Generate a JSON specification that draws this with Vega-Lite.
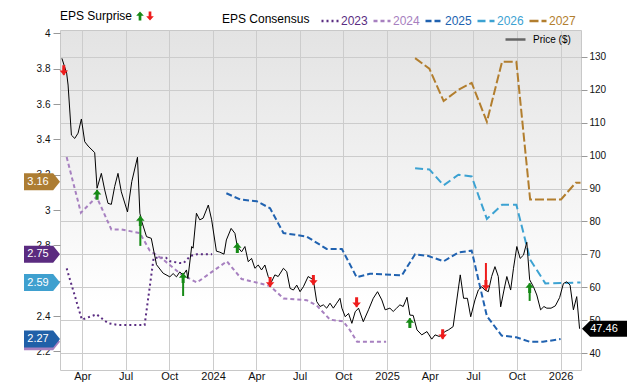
{
  "$schema": "https://vega.github.io/schema/vega-lite/v6.json",
  "width": 521,
  "height": 340,
  "autosize": {"type": "none"},
  "padding": {"left": 60, "top": 30, "right": 59, "bottom": 12},
  "config": {
    "font": "Liberation Sans",
    "view": {
      "fill": {"gradient": "linear", "x1": 0, "y1": 0, "x2": 0, "y2": 1, "stops": [{"offset": 0, "color": "#e3e3e3"}, {"offset": 0.8, "color": "#ffffff"}, {"offset": 1, "color": "#ffffff"}]},
      "stroke": "#c8c8c8",
      "strokeWidth": 1
    },
    "axis": {"domain": false, "gridColor": "#cccccc", "gridWidth": 1, "tickColor": "#999999", "labelColor": "#111111", "labelFont": "Liberation Sans", "labelOverlap": false},
    "legend": {"titleFont": "Liberation Sans", "titleFontSize": 12, "titleFontWeight": "normal", "titleColor": "#000000", "labelFont": "Liberation Sans"}
  },
  "datasets": {
    "price": [
      {"date": "2023-02-17", "price": 129.5}, {"date": "2023-02-27", "price": 125}, {"date": "2023-03-02", "price": 121.4},
      {"date": "2023-03-09", "price": 106.2}, {"date": "2023-03-16", "price": 105.2}, {"date": "2023-03-23", "price": 106.8},
      {"date": "2023-03-30", "price": 111.1}, {"date": "2023-04-06", "price": 104.2}, {"date": "2023-04-13", "price": 102.9},
      {"date": "2023-04-27", "price": 100.9}, {"date": "2023-05-02", "price": 90.1}, {"date": "2023-05-11", "price": 94.6},
      {"date": "2023-05-18", "price": 89.6}, {"date": "2023-05-25", "price": 85.5}, {"date": "2023-06-01", "price": 85.2},
      {"date": "2023-06-08", "price": 90.6}, {"date": "2023-06-15", "price": 94.6}, {"date": "2023-06-22", "price": 89.0},
      {"date": "2023-07-05", "price": 82.9}, {"date": "2023-07-14", "price": 92.1}, {"date": "2023-07-26", "price": 99.5},
      {"date": "2023-07-31", "price": 82.5}, {"date": "2023-08-04", "price": 80}, {"date": "2023-08-14", "price": 75.4},
      {"date": "2023-08-24", "price": 74.9}, {"date": "2023-09-04", "price": 66.9}, {"date": "2023-09-18", "price": 64.3},
      {"date": "2023-10-02", "price": 63.2}, {"date": "2023-10-09", "price": 64.2}, {"date": "2023-10-16", "price": 63.2},
      {"date": "2023-10-23", "price": 64.7}, {"date": "2023-10-30", "price": 63.7}, {"date": "2023-11-06", "price": 65.3},
      {"date": "2023-11-09", "price": 62.7}, {"date": "2023-11-17", "price": 72.4}, {"date": "2023-11-20", "price": 71.9},
      {"date": "2023-11-27", "price": 82.5}, {"date": "2023-12-04", "price": 80.5}, {"date": "2023-12-11", "price": 81},
      {"date": "2023-12-22", "price": 85}, {"date": "2023-12-29", "price": 80.5}, {"date": "2024-01-08", "price": 71},
      {"date": "2024-01-15", "price": 70.7}, {"date": "2024-01-24", "price": 70.1}, {"date": "2024-01-29", "price": 74.4},
      {"date": "2024-02-08", "price": 77.9}, {"date": "2024-02-16", "price": 76.4}, {"date": "2024-02-21", "price": 72.4},
      {"date": "2024-03-01", "price": 70.8}, {"date": "2024-03-08", "price": 72.4}, {"date": "2024-03-15", "price": 67.8},
      {"date": "2024-03-22", "price": 68.8}, {"date": "2024-03-29", "price": 65.8}, {"date": "2024-04-05", "price": 66.8},
      {"date": "2024-04-12", "price": 65.3}, {"date": "2024-04-19", "price": 66.8}, {"date": "2024-04-26", "price": 63.3},
      {"date": "2024-05-03", "price": 61.7}, {"date": "2024-05-10", "price": 63.8}, {"date": "2024-05-17", "price": 63.3},
      {"date": "2024-05-28", "price": 65.8}, {"date": "2024-06-04", "price": 64.8}, {"date": "2024-06-11", "price": 59.7},
      {"date": "2024-06-18", "price": 59.2}, {"date": "2024-06-25", "price": 60.7}, {"date": "2024-07-02", "price": 58.7},
      {"date": "2024-07-09", "price": 60.2}, {"date": "2024-07-19", "price": 63.3}, {"date": "2024-07-30", "price": 62.3},
      {"date": "2024-08-06", "price": 55.7}, {"date": "2024-08-13", "price": 54.2}, {"date": "2024-08-20", "price": 54.7},
      {"date": "2024-08-27", "price": 53.7}, {"date": "2024-09-03", "price": 55.2}, {"date": "2024-09-10", "price": 53.7},
      {"date": "2024-09-17", "price": 55.2}, {"date": "2024-09-24", "price": 56.7}, {"date": "2024-09-28", "price": 53.7},
      {"date": "2024-10-05", "price": 51.1}, {"date": "2024-10-12", "price": 52.1}, {"date": "2024-10-19", "price": 49.1},
      {"date": "2024-10-26", "price": 52.6}, {"date": "2024-11-02", "price": 53.7}, {"date": "2024-11-12", "price": 49.6},
      {"date": "2024-11-23", "price": 53.2}, {"date": "2024-12-03", "price": 56.7}, {"date": "2024-12-12", "price": 58.7},
      {"date": "2024-12-21", "price": 56.2}, {"date": "2024-12-28", "price": 53.2}, {"date": "2025-01-07", "price": 53.7},
      {"date": "2025-01-14", "price": 52.7}, {"date": "2025-01-21", "price": 53.7}, {"date": "2025-01-28", "price": 54.7},
      {"date": "2025-02-04", "price": 54.2}, {"date": "2025-02-12", "price": 57}, {"date": "2025-02-18", "price": 51.6},
      {"date": "2025-02-25", "price": 51.5}, {"date": "2025-03-05", "price": 47.1}, {"date": "2025-03-15", "price": 45.6},
      {"date": "2025-03-26", "price": 46.6}, {"date": "2025-04-05", "price": 44.3}, {"date": "2025-04-12", "price": 45.6},
      {"date": "2025-04-21", "price": 45.1}, {"date": "2025-05-03", "price": 46.6}, {"date": "2025-05-10", "price": 47.1},
      {"date": "2025-05-20", "price": 48.1}, {"date": "2025-06-04", "price": 63.8}, {"date": "2025-06-11", "price": 56.7},
      {"date": "2025-06-19", "price": 56.7}, {"date": "2025-06-26", "price": 51.1}, {"date": "2025-07-05", "price": 56.2},
      {"date": "2025-07-12", "price": 59.2}, {"date": "2025-07-19", "price": 60.2}, {"date": "2025-07-26", "price": 59.2},
      {"date": "2025-08-02", "price": 58.7}, {"date": "2025-08-09", "price": 63.3}, {"date": "2025-08-16", "price": 66.3},
      {"date": "2025-08-23", "price": 63.3}, {"date": "2025-08-28", "price": 54.1}, {"date": "2025-09-04", "price": 59.2},
      {"date": "2025-09-10", "price": 63.3}, {"date": "2025-09-18", "price": 59.2}, {"date": "2025-09-24", "price": 65.8},
      {"date": "2025-10-01", "price": 72.4}, {"date": "2025-10-08", "price": 68.8}, {"date": "2025-10-15", "price": 69.8},
      {"date": "2025-10-22", "price": 73.7}, {"date": "2025-10-28", "price": 62.3}, {"date": "2025-11-05", "price": 60.2},
      {"date": "2025-11-12", "price": 57.7}, {"date": "2025-11-20", "price": 53.2}, {"date": "2025-11-27", "price": 54.2},
      {"date": "2025-12-03", "price": 53.7}, {"date": "2025-12-12", "price": 53.7}, {"date": "2025-12-21", "price": 54.4},
      {"date": "2025-12-30", "price": 56.9}, {"date": "2026-01-07", "price": 61.2}, {"date": "2026-01-14", "price": 61.7},
      {"date": "2026-01-21", "price": 60.7}, {"date": "2026-01-28", "price": 53.2}, {"date": "2026-02-04", "price": 57.2},
      {"date": "2026-02-10", "price": 47.46}
    ],
    "consensus": [
      {"year": "2023", "date": "2023-02-27", "eps": 2.67}, {"year": "2023", "date": "2023-03-31", "eps": 2.38},
      {"year": "2023", "date": "2023-05-01", "eps": 2.41}, {"year": "2023", "date": "2023-05-25", "eps": 2.36},
      {"year": "2023", "date": "2023-06-15", "eps": 2.35}, {"year": "2023", "date": "2023-07-31", "eps": 2.35},
      {"year": "2023", "date": "2023-08-10", "eps": 2.35}, {"year": "2023", "date": "2023-08-29", "eps": 2.73},
      {"year": "2023", "date": "2023-09-24", "eps": 2.73}, {"year": "2023", "date": "2023-10-03", "eps": 2.71},
      {"year": "2023", "date": "2023-10-24", "eps": 2.70}, {"year": "2023", "date": "2023-10-31", "eps": 2.70},
      {"year": "2023", "date": "2023-11-14", "eps": 2.74}, {"year": "2023", "date": "2023-11-28", "eps": 2.75},
      {"year": "2023", "date": "2023-12-30", "eps": 2.75},
      {"year": "2024", "date": "2023-02-27", "eps": 3.30}, {"year": "2024", "date": "2023-03-29", "eps": 2.985},
      {"year": "2024", "date": "2023-05-01", "eps": 3.075}, {"year": "2024", "date": "2023-06-01", "eps": 2.89},
      {"year": "2024", "date": "2023-06-22", "eps": 2.89}, {"year": "2024", "date": "2023-07-31", "eps": 2.87},
      {"year": "2024", "date": "2023-08-21", "eps": 2.77}, {"year": "2024", "date": "2023-09-18", "eps": 2.72},
      {"year": "2024", "date": "2023-10-24", "eps": 2.64}, {"year": "2024", "date": "2023-11-28", "eps": 2.59},
      {"year": "2024", "date": "2024-01-30", "eps": 2.71}, {"year": "2024", "date": "2024-03-01", "eps": 2.61},
      {"year": "2024", "date": "2024-04-09", "eps": 2.585}, {"year": "2024", "date": "2024-04-30", "eps": 2.57},
      {"year": "2024", "date": "2024-05-28", "eps": 2.50}, {"year": "2024", "date": "2024-07-16", "eps": 2.49},
      {"year": "2024", "date": "2024-08-06", "eps": 2.46}, {"year": "2024", "date": "2024-09-03", "eps": 2.38},
      {"year": "2024", "date": "2024-10-01", "eps": 2.37}, {"year": "2024", "date": "2024-10-15", "eps": 2.32},
      {"year": "2024", "date": "2024-10-30", "eps": 2.255}, {"year": "2024", "date": "2024-12-30", "eps": 2.255},
      {"year": "2025", "date": "2024-01-29", "eps": 3.095}, {"year": "2025", "date": "2024-02-27", "eps": 3.06},
      {"year": "2025", "date": "2024-04-02", "eps": 3.05}, {"year": "2025", "date": "2024-04-30", "eps": 3.01},
      {"year": "2025", "date": "2024-05-28", "eps": 2.87}, {"year": "2025", "date": "2024-07-16", "eps": 2.85},
      {"year": "2025", "date": "2024-08-27", "eps": 2.78}, {"year": "2025", "date": "2024-09-28", "eps": 2.78},
      {"year": "2025", "date": "2024-10-29", "eps": 2.62}, {"year": "2025", "date": "2024-11-26", "eps": 2.64},
      {"year": "2025", "date": "2025-02-01", "eps": 2.63}, {"year": "2025", "date": "2025-03-01", "eps": 2.75},
      {"year": "2025", "date": "2025-03-29", "eps": 2.74}, {"year": "2025", "date": "2025-04-30", "eps": 2.71},
      {"year": "2025", "date": "2025-05-31", "eps": 2.76}, {"year": "2025", "date": "2025-06-28", "eps": 2.77},
      {"year": "2025", "date": "2025-07-30", "eps": 2.40}, {"year": "2025", "date": "2025-08-30", "eps": 2.29},
      {"year": "2025", "date": "2025-09-30", "eps": 2.28}, {"year": "2025", "date": "2025-10-28", "eps": 2.255},
      {"year": "2025", "date": "2025-11-25", "eps": 2.255}, {"year": "2025", "date": "2026-01-01", "eps": 2.27},
      {"year": "2026", "date": "2025-03-01", "eps": 3.236}, {"year": "2026", "date": "2025-03-31", "eps": 3.23},
      {"year": "2026", "date": "2025-04-30", "eps": 3.14}, {"year": "2026", "date": "2025-05-31", "eps": 3.20},
      {"year": "2026", "date": "2025-06-28", "eps": 3.19}, {"year": "2026", "date": "2025-07-30", "eps": 2.95},
      {"year": "2026", "date": "2025-08-31", "eps": 3.03}, {"year": "2026", "date": "2025-09-30", "eps": 3.03},
      {"year": "2026", "date": "2025-10-29", "eps": 2.72}, {"year": "2026", "date": "2025-11-30", "eps": 2.585},
      {"year": "2026", "date": "2026-02-12", "eps": 2.59},
      {"year": "2027", "date": "2025-03-01", "eps": 3.86}, {"year": "2027", "date": "2025-03-31", "eps": 3.80},
      {"year": "2027", "date": "2025-04-30", "eps": 3.617}, {"year": "2027", "date": "2025-05-31", "eps": 3.68},
      {"year": "2027", "date": "2025-06-28", "eps": 3.72}, {"year": "2027", "date": "2025-07-30", "eps": 3.50},
      {"year": "2027", "date": "2025-08-31", "eps": 3.84}, {"year": "2027", "date": "2025-09-30", "eps": 3.84},
      {"year": "2027", "date": "2025-10-29", "eps": 3.06}, {"year": "2027", "date": "2026-01-02", "eps": 3.06},
      {"year": "2027", "date": "2026-02-02", "eps": 3.155}, {"year": "2027", "date": "2026-02-12", "eps": 3.155}
    ],
    "surprise": [
      {"date": "2023-02-21", "p": 124.4, "p2": 126.6, "result": "miss"},
      {"date": "2023-05-02", "p": 89.6, "p2": 87.1, "result": "beat"},
      {"date": "2023-08-01", "p": 81.7, "p2": 72.6, "result": "beat"},
      {"date": "2023-10-30", "p": 64.4, "p2": 57.4, "result": "beat"},
      {"date": "2024-02-21", "p": 73.5, "p2": 70.7, "result": "beat"},
      {"date": "2024-04-30", "p": 60.1, "p2": 62.2, "result": "miss"},
      {"date": "2024-07-30", "p": 60.7, "p2": 62.8, "result": "miss"},
      {"date": "2024-10-29", "p": 54.0, "p2": 56.2, "result": "miss"},
      {"date": "2025-02-18", "p": 50.7, "p2": 48.0, "result": "beat"},
      {"date": "2025-04-28", "p": 44.3, "p2": 46.5, "result": "miss"},
      {"date": "2025-07-28", "p": 59.2, "p2": 67.4, "result": "miss"},
      {"date": "2025-10-28", "p": 61.3, "p2": 55.9, "result": "beat"}
    ],
    "badges": [
      {"year": "2023", "eps": 2.75}, {"year": "2024", "eps": 2.255}, {"year": "2025", "eps": 2.27},
      {"year": "2026", "eps": 2.59}, {"year": "2027", "eps": 3.16}
    ],
    "last": [{"price": 47.46}]
  },
  "layer": [
    {
      "layer": [
        {
          "data": {"name": "consensus"},
          "mark": {"type": "line", "strokeWidth": 2, "clip": true},
          "encoding": {
            "x": {
              "field": "date", "type": "temporal",
              "scale": {"type": "utc", "domain": [1676246400000, 1770940800000]},
              "axis": {"orient": "bottom", "title": null, "grid": true, "ticks": false, "labelPadding": 0, "labelFontSize": 11, "labelFlush": false, "labelOverlap": false,
                "tickCount": {"interval": "month", "step": 3},
                "labelExpr": "utcmonth(datum.value) == 0 ? utcFormat(datum.value, '%Y') : utcFormat(datum.value, '%b')"}
            },
            "y": {"field": "eps", "type": "quantitative",
              "scale": {"domain": [2.095, 4.019], "nice": false, "zero": false},
              "axis": {"orient": "left", "title": null, "grid": false, "values": [2.2, 2.4, 2.6, 2.8, 3, 3.2, 3.4, 3.6, 3.8, 4], "tickCount": 30, "format": "~g", "tickSize": 7, "labelPadding": 3, "labelFontSize": 10, "labelOverlap": false}},
            "stroke": {"field": "year", "type": "nominal",
              "scale": {"domain": ["2023", "2024", "2025", "2026", "2027"], "range": ["#5a2d82", "#a780c0", "#2062b0", "#3ca2d2", "#b27e2e"]},
              "legend": {"title": "EPS Consensus", "orient": "none", "legendX": 162, "legendY": -19, "direction": "horizontal", "titleOrient": "left", "titlePadding": 10,
                "symbolType": "stroke", "symbolSize": 289, "symbolStrokeWidth": 2.5, "labelFontSize": 12, "labelOffset": 1, "columnPadding": 0,
                "encode": {"labels": {"update": {"fill": {"scale": "stroke", "field": "value"}}}}}},
            "strokeDash": {"field": "year", "type": "nominal",
              "scale": {"domain": ["2023", "2024", "2025", "2026", "2027"], "range": [[2, 3], [4, 3], [6, 3], [8, 4], [9, 3]]},
              "legend": {"title": "EPS Consensus", "orient": "none", "legendX": 162, "legendY": -19, "direction": "horizontal", "titleOrient": "left", "titlePadding": 10,
                "symbolType": "stroke", "symbolSize": 289, "symbolStrokeWidth": 2.5, "labelFontSize": 12, "labelOffset": 1, "columnPadding": 0,
                "encode": {"labels": {"update": {"fill": {"scale": "stroke", "field": "value"}}}}}}
          }
        },
        {
          "data": {"name": "badges"},
          "mark": {"type": "point", "filled": true, "opacity": 1, "size": 1296, "strokeWidth": 0, "xOffset": -18, "clip": false,
            "shape": "M-1,-0.47L0.62,-0.47L1,0L0.62,0.47L-1,0.47Z"},
          "encoding": {
            "x": {"datum": 1676246400000, "type": "temporal", "scale": {"type": "utc", "domain": [1676246400000, 1770940800000]}},
            "y": {"field": "eps", "type": "quantitative", "scale": {"domain": [2.095, 4.019], "nice": false, "zero": false}},
            "fill": {"field": "year", "type": "nominal",
              "scale": {"domain": ["2023", "2024", "2025", "2026", "2027"], "range": ["#5b2b80", "#a780c0", "#2060a8", "#3fa0cf", "#ad7d33"]},
              "legend": null}
          }
        },
        {
          "data": {"name": "badges"},
          "transform": [{"filter": "datum.year != '2024'"}],
          "mark": {"type": "text", "color": "#ffffff", "fontSize": 11, "xOffset": -22, "align": "center", "baseline": "middle", "clip": false},
          "encoding": {
            "x": {"datum": 1676246400000, "type": "temporal", "scale": {"type": "utc", "domain": [1676246400000, 1770940800000]}},
            "y": {"field": "eps", "type": "quantitative", "scale": {"domain": [2.095, 4.019], "nice": false, "zero": false}},
            "text": {"field": "eps", "type": "quantitative", "format": ".2f"}
          }
        }
      ]
    },
    {
      "layer": [
        {
          "data": {"name": "price"},
          "mark": {"type": "line", "color": "#000000", "strokeWidth": 1},
          "encoding": {
            "x": {"field": "date", "type": "temporal", "scale": {"type": "utc", "domain": [1676246400000, 1770940800000]}},
            "y": {"field": "price", "type": "quantitative",
              "scale": {"domain": [34.94, 138.1], "nice": false, "zero": false},
              "axis": {"orient": "right", "title": null, "grid": true, "values": [40, 50, 60, 70, 80, 90, 100, 110, 120, 130], "tickCount": 30, "tickSize": 6, "labelPadding": 2, "labelFontSize": 10, "labelOverlap": false}},
            "opacity": {"datum": "Price ($)", "type": "nominal", "scale": {"range": [1, 1]},
              "legend": {"title": null, "orient": "none", "legendX": 444, "legendY": -2, "symbolType": "stroke", "symbolSize": 400, "symbolStrokeWidth": 2.5, "symbolStrokeColor": "#666666", "labelFontSize": 10, "labelOffset": 6,
                "encode": {"symbols": {"update": {"stroke": {"value": "#666666"}, "strokeWidth": {"value": 2.5}}}}}}
          }
        },
        {
          "data": {"name": "surprise"},
          "mark": {"type": "rule", "strokeWidth": 2},
          "encoding": {
            "x": {"field": "date", "type": "temporal", "scale": {"type": "utc", "domain": [1676246400000, 1770940800000]}},
            "y": {"field": "p", "type": "quantitative", "scale": {"domain": [34.94, 138.1], "nice": false, "zero": false}},
            "y2": {"field": "p2"},
            "color": {"field": "result", "type": "nominal", "scale": {"domain": ["beat", "miss"], "range": ["#168a16", "#ee1c1c"]},
              "legend": {"title": "EPS Surprise", "orient": "none", "legendX": 0, "legendY": -19, "direction": "horizontal", "titleOrient": "left", "titlePadding": 2,
                "labelExpr": "''", "labelOffset": 0, "columnPadding": 0, "symbolSize": 81, "symbolStrokeWidth": 0}}
          }
        },
        {
          "data": {"name": "surprise"},
          "transform": [{"filter": "datum.result == 'beat'"}],
          "mark": {"type": "point", "filled": true, "opacity": 1, "size": 100, "yOffset": 5, "strokeWidth": 0},
          "encoding": {
            "x": {"field": "date", "type": "temporal", "scale": {"type": "utc", "domain": [1676246400000, 1770940800000]}},
            "y": {"field": "p", "type": "quantitative", "scale": {"domain": [34.94, 138.1], "nice": false, "zero": false}},
            "color": {"field": "result", "type": "nominal", "scale": {"domain": ["beat", "miss"], "range": ["#168a16", "#ee1c1c"]},
              "legend": {"title": "EPS Surprise", "orient": "none", "legendX": 0, "legendY": -19, "direction": "horizontal", "titleOrient": "left", "titlePadding": 2,
                "labelExpr": "''", "labelOffset": 0, "columnPadding": 0, "symbolSize": 81, "symbolStrokeWidth": 0}},
            "shape": {"field": "result", "type": "nominal",
              "scale": {"domain": ["beat", "miss"], "range": ["M0,-1L0.85,-0.05L0.3,-0.05L0.3,1L-0.3,1L-0.3,-0.05L-0.85,-0.05Z", "M0,1L0.85,0.05L0.3,0.05L0.3,-1L-0.3,-1L-0.3,0.05L-0.85,0.05Z"]},
              "legend": {"title": "EPS Surprise", "orient": "none", "legendX": 0, "legendY": -19, "direction": "horizontal", "titleOrient": "left", "titlePadding": 2,
                "labelExpr": "''", "labelOffset": 0, "columnPadding": 0, "symbolSize": 81, "symbolStrokeWidth": 0}}
          }
        },
        {
          "data": {"name": "surprise"},
          "transform": [{"filter": "datum.result == 'miss'"}],
          "mark": {"type": "point", "filled": true, "opacity": 1, "size": 100, "yOffset": -5, "strokeWidth": 0},
          "encoding": {
            "x": {"field": "date", "type": "temporal", "scale": {"type": "utc", "domain": [1676246400000, 1770940800000]}},
            "y": {"field": "p", "type": "quantitative", "scale": {"domain": [34.94, 138.1], "nice": false, "zero": false}},
            "color": {"field": "result", "type": "nominal", "scale": {"domain": ["beat", "miss"], "range": ["#168a16", "#ee1c1c"]},
              "legend": {"title": "EPS Surprise", "orient": "none", "legendX": 0, "legendY": -19, "direction": "horizontal", "titleOrient": "left", "titlePadding": 2,
                "labelExpr": "''", "labelOffset": 0, "columnPadding": 0, "symbolSize": 81, "symbolStrokeWidth": 0}},
            "shape": {"field": "result", "type": "nominal",
              "scale": {"domain": ["beat", "miss"], "range": ["M0,-1L0.85,-0.05L0.3,-0.05L0.3,1L-0.3,1L-0.3,-0.05L-0.85,-0.05Z", "M0,1L0.85,0.05L0.3,0.05L0.3,-1L-0.3,-1L-0.3,0.05L-0.85,0.05Z"]},
              "legend": {"title": "EPS Surprise", "orient": "none", "legendX": 0, "legendY": -19, "direction": "horizontal", "titleOrient": "left", "titlePadding": 2,
                "labelExpr": "''", "labelOffset": 0, "columnPadding": 0, "symbolSize": 81, "symbolStrokeWidth": 0}}
          }
        },
        {
          "data": {"name": "last"},
          "mark": {"type": "point", "filled": true, "opacity": 1, "size": 2025, "strokeWidth": 0, "color": "#000000", "xOffset": 23.5, "clip": false,
            "shape": "M1,-0.36L-0.64,-0.36L-1,0L-0.64,0.36L1,0.36Z"},
          "encoding": {
            "x": {"datum": 1770940800000, "type": "temporal", "scale": {"type": "utc", "domain": [1676246400000, 1770940800000]}},
            "y": {"field": "price", "type": "quantitative", "scale": {"domain": [34.94, 138.1], "nice": false, "zero": false}}
          }
        },
        {
          "data": {"name": "last"},
          "mark": {"type": "text", "color": "#ffffff", "fontSize": 11, "xOffset": 23, "align": "center", "baseline": "middle", "clip": false},
          "encoding": {
            "x": {"datum": 1770940800000, "type": "temporal", "scale": {"type": "utc", "domain": [1676246400000, 1770940800000]}},
            "y": {"field": "price", "type": "quantitative", "scale": {"domain": [34.94, 138.1], "nice": false, "zero": false}},
            "text": {"field": "price", "type": "quantitative", "format": ".2f"}
          }
        }
      ]
    }
  ],
  "resolve": {"scale": {"y": "independent"}}
}
